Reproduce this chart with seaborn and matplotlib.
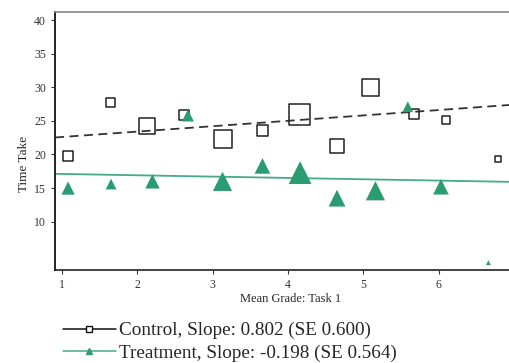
import numpy as np
import pandas as pd
import matplotlib
matplotlib.use("Agg")
import matplotlib.pyplot as plt
import seaborn as sns
from matplotlib.lines import Line2D

sns.set_style("white")
plt.rcParams["font.family"] = ["Liberation Serif", "DejaVu Serif"]

# ---- data ----
ctrl_grade = [1.08, 1.64, 2.13, 2.62, 3.13, 3.66, 4.15, 4.65, 5.10, 5.67, 6.10, 6.79]
ctrl_time = [19.8, 27.7, 24.2, 25.8, 22.3, 23.5, 26.0, 21.2, 30.0, 26.0, 25.1, 19.4]
ctrl_weight = [10, 9, 16, 10, 18, 11, 21, 14, 17, 10, 8, 6]

treat_grade = [1.08, 1.65, 2.20, 2.67, 3.13, 3.66, 4.16, 4.65, 5.16, 5.59, 6.03, 6.66]
treat_time = [15.0, 15.6, 16.0, 25.8, 16.0, 18.3, 17.3, 13.5, 14.6, 27.1, 15.2, 3.9]
treat_weight = [11, 9, 12, 10, 16, 13, 19, 14, 16, 9, 13, 4]

ctrl_slope, ctrl_intercept, ctrl_se = 0.802, 21.8, 0.600
treat_slope, treat_intercept, treat_se = -0.198, 17.3, 0.564

x_ticks = [1, 2, 3, 4, 5, 6]
y_ticks = [10, 15, 20, 25, 30, 35, 40]

green = "#2b9b72"
line_green = "#45ab88"

ctrl = pd.DataFrame({"grade": ctrl_grade, "time": ctrl_time, "w": ctrl_weight})
treat = pd.DataFrame({"grade": treat_grade, "time": treat_time, "w": treat_weight})

fig = plt.figure(figsize=(5.10, 3.63), dpi=100)
# axes runs a little past the right edge of the image, as in the reference crop
ax = fig.add_axes([0.108, 0.256, 0.922, 0.711])

xlim = (0.907, 7.15)
xs = np.array(xlim)
fit = pd.DataFrame({
    "grade": np.concatenate([xs, xs]),
    "time": np.concatenate([ctrl_intercept + ctrl_slope * xs,
                            treat_intercept + treat_slope * xs]),
    "group": ["Control"] * 2 + ["Treatment"] * 2,
})
sns.lineplot(data=fit[fit.group == "Control"], x="grade", y="time", ax=ax,
             color="#333333", lw=1.3, linestyle=(0, (5, 3)), legend=False)
sns.lineplot(data=fit[fit.group == "Treatment"], x="grade", y="time", ax=ax,
             color=line_green, lw=1.3, legend=False)

# marker side in px -> scatter size in pt^2
px2pt = 72 / 100
sns.scatterplot(data=ctrl, x="grade", y="time", ax=ax, marker="s",
                s=(ctrl["w"] * px2pt) ** 2, facecolor="none",
                edgecolor="#222222", linewidth=1.1, legend=False, zorder=3)
sns.scatterplot(data=treat, x="grade", y="time", ax=ax, marker="^",
                s=(treat["w"] * px2pt * 1.2) ** 2, color=green,
                edgecolor=green, linewidth=0, legend=False, zorder=3)

ax.set_xlim(*xlim)
ax.set_ylim(2.8, 41.2)
ax.set_xticks(x_ticks)
ax.set_yticks(y_ticks)
ax.tick_params(axis="both", labelsize=8.5, colors="#333333", length=3,
               direction="out", left=True, bottom=True, width=0.8)
ax.set_xlabel("Mean Grade: Task 1", fontsize=9)
ax.set_ylabel("Time Take", fontsize=9.5)
ax.xaxis.set_label_coords((290 - 55) / 470, -0.088)
ax.yaxis.set_label_coords(-0.054, 0.41)
ax.spines["left"].set_color("#222222")
ax.spines["left"].set_linewidth(1.4)
ax.spines["bottom"].set_color("#222222")
ax.spines["bottom"].set_linewidth(1.2)
ax.spines["top"].set_color("#888888")
ax.spines["top"].set_linewidth(1.2)
ax.spines["right"].set_visible(False)

handles = [
    Line2D([], [], color="#111111", lw=1.1, marker="s", markersize=4,
           markerfacecolor="white", markeredgecolor="#111111"),
    Line2D([], [], color=line_green, lw=1.1, marker="^", markersize=4,
           markerfacecolor=green, markeredgecolor=green),
]
labels = [
    f"Control, Slope: {ctrl_slope:.3f} (SE {ctrl_se:.3f})",
    f"Treatment, Slope: {treat_slope:.3f} (SE {treat_se:.3f})",
]
fig.legend(handles, labels, loc="lower left", bbox_to_anchor=(0.097, -0.033),
           frameon=False, fontsize=13.8, handlelength=2.75, handletextpad=0.2,
           labelspacing=0.25, borderpad=0.2)

fig.savefig("out.png", dpi=100)
